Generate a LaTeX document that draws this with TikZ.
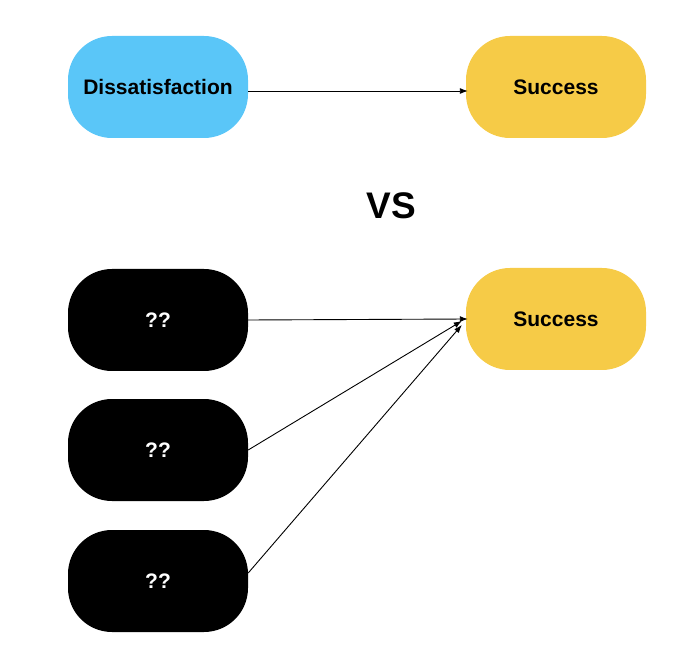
\documentclass[tikz,border=0pt]{standalone}
\usepackage{fontspec}
\setmainfont{Liberation Sans}
\usepackage{tikz}
\tikzset{>=latex}
\usetikzlibrary{arrows.meta, positioning}

\definecolor{pillblue}{HTML}{5AC6F8}
\definecolor{pillyellow}{HTML}{F6CB47}

\tikzset{
    pill/.style={minimum width=180pt, minimum height=102pt, rounded corners=44pt,
        font=\fontsize{21}{24}\selectfont\bfseries, inner sep=0pt},
    link/.style={-{Latex[length=8pt,width=6pt]}, line width=0.9pt}
}

\begin{document}
\begin{tikzpicture}[x=1pt, y=1pt]
    \useasboundingbox (0,0) rectangle (700,664);

    % Top row
    \node[pill, fill=pillblue] (dissat) at (158,577) {Dissatisfaction};
    \node[pill, fill=pillyellow] (succA) at (556,577) {Success};
    \draw[link] ([yshift=-4pt]dissat.east) -- ([xshift=2pt, yshift=-4pt]succA.west);

    % VS
    \node[font=\fontsize{37}{40}\selectfont\bfseries] (vs) at (391,458) {VS};

    % Bottom rows
    \node[pill, fill=pillyellow] (succB) at (556,345) {Success};
    \foreach \n/\y in {qa/344, qb/214, qc/83}{
        \node[pill, fill=black, text=white] (\n) at (158,\y) {??};
    }

    \draw[link] (qa.east) -- ([xshift=2pt]succB.west);
    \draw[link] (qb.east) -- ([xshift=-4pt, yshift=-2pt]succB.west);
    \draw[link] ([yshift=8pt]qc.east) -- ([xshift=-4pt, yshift=-6pt]succB.west);

\end{tikzpicture}
\end{document}
